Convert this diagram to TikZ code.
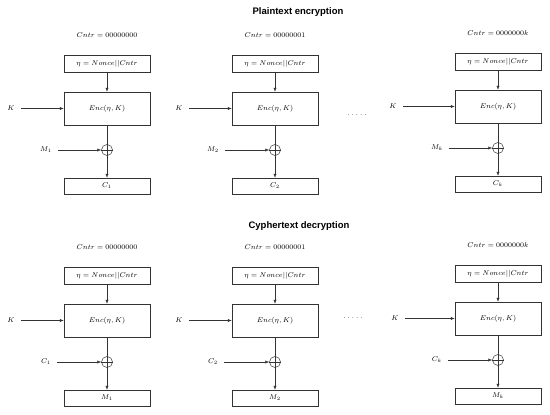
\documentclass[tikz,border=0pt]{standalone}
\usepackage{fontspec}
\newfontfamily\titlefont{Liberation Sans}
\usetikzlibrary{arrows.meta}
\tikzset{
  lbl/.style={inner sep=0pt, font=\fontsize{7.5}{9}\selectfont},
  nbox/.style={draw=black!80, line width=0.5pt, minimum width=86pt, minimum height=17pt, inner sep=0pt, font=\fontsize{7.5}{9}\selectfont},
  ebox/.style={nbox, minimum height=33pt},
  obox/.style={nbox, minimum height=16pt},
  xorc/.style={draw=black!80, line width=0.5pt, circle, minimum size=11pt, inner sep=0pt},
  conn/.style={draw=black!80, line width=0.5pt},
  arr/.style={conn, -{Latex[length=4pt,width=3.2pt]}},
  ttl/.style={inner sep=0pt, font=\titlefont\bfseries\fontsize{9.5}{11}\selectfont}
}
% #1 name, #2 centre x, #3 nonce top y, #4 K label x, #5 input label x, #6 counter text, #7 input label, #8 output label
\newcommand{\ctrblock}[8]{%
  \node[lbl] (#1cnt) at (#2,#3-20) {$#6$};
  \node[nbox] (#1non) at (#2,#3+8.5) {$\eta = Nonce||Cntr$};
  \node[ebox] (#1enc) at (#2,#3+53.5) {$Enc(\eta,K)$};
  \node[lbl] (#1k) at (#4,#3+53.5) {$K$};
  \node[xorc] (#1x) at (#2,#3+95) {};
  \draw[conn] (#1x.north) -- (#1x.south) (#1x.west) -- (#1x.east);
  \node[lbl] (#1in) at (#5,#3+95) {$#7$};
  \node[obox] (#1out) at (#2,#3+131) {$#8$};
  \draw[arr] (#1non.south) -- (#1enc.north);
  \draw[arr] (#1k.east) ++(6pt,0) coordinate (#1ks) -- (#1enc.west);
  \draw[conn] (#1enc.south) -- (#1x.north);
  \draw[arr] (#1in.east) ++(6pt,0) coordinate (#1ins) -- (#1x.west);
  \draw[arr] (#1x.south) -- (#1out.north);
}
\begin{document}
\begin{tikzpicture}[x=1pt,y=-1pt]
\useasboundingbox (0,0) rectangle (550,415);
\node[ttl] (t1) at (298,12) {Plaintext encryption};
\node[ttl] (t2) at (299,226) {Cyphertext decryption};
\ctrblock{a}{107}{55}{11}{46}{Cntr = 00000000}{M_1}{C_1}
\ctrblock{b}{275}{55}{179}{213}{Cntr = 00000001}{M_2}{C_2}
\ctrblock{c}{498}{53}{393}{437}{Cntr = 0000000k}{M_k}{C_k}
\ctrblock{d}{107}{267}{11}{46}{Cntr = 00000000}{C_1}{M_1}
\ctrblock{e}{275}{267}{179}{213}{Cntr = 00000001}{C_2}{M_2}
\ctrblock{f}{498}{265}{395}{437}{Cntr = 0000000k}{C_k}{M_k}
\node[lbl] (dots1) at (357,115) {.\hspace{2pt}.\hspace{2pt}.\hspace{2pt}.\hspace{2pt}.};
\node[lbl] (dots2) at (353,318) {.\hspace{2pt}.\hspace{2pt}.\hspace{2pt}.\hspace{2pt}.};
\end{tikzpicture}
\end{document}
